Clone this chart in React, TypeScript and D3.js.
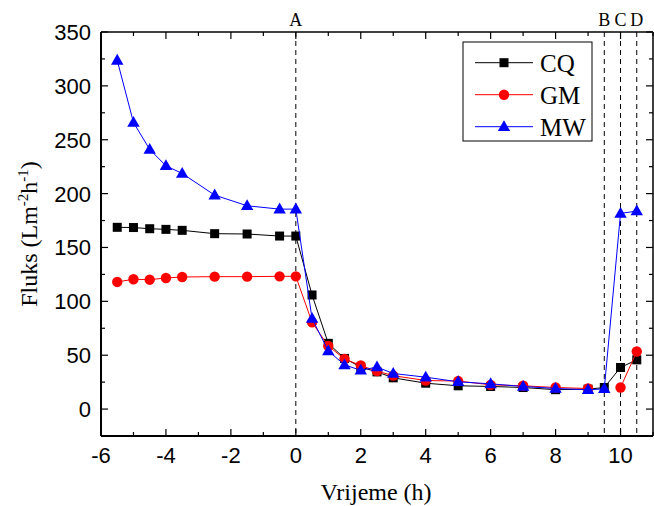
import React from "react";
import * as d3 from "d3";

const hours = [-5.5, -5, -4.5, -4, -3.5, -2.5, -1.5, -0.5, 0, 0.5, 1, 1.5, 2, 2.5, 3, 4, 5, 6, 7, 8, 9, 9.5, 10, 10.5];
const cqValues = [168.7, 168.5, 167.4, 166.8, 165.9, 162.8, 162.5, 160.6, 160.6, 105.9, 61, 47, 39, 34.5, 29, 24, 21.6, 21, 20, 18, 18.5, 20, 38.6, 45.7];
const gmValues: (number | null)[] = [118, 120.5, 120.1, 121.7, 122.6, 122.9, 122.9, 123.2, 123.2, 80.5, 58.5, 46.6, 40.4, 35.2, 31, 26.5, 26, 22.5, 21.6, 20, 19.1, null, 20, 53.4];
const mwValues = [323.7, 266, 241, 225.8, 218.7, 198.6, 188.7, 185.6, 185.6, 84, 54, 41, 36, 39, 33, 29.6, 25.3, 23.4, 21, 19.1, 17.9, 18.8, 181.6, 183.8];

const seriesNames = ["CQ", "GM", "MW"];
const seriesColors = ["#000000", "#ff0000", "#0000ff"];
const seriesShapes = ["square", "circle", "triangle"];
const eventLabels = ["A", "B", "C", "D"];
const eventHours = [0, 9.5, 10, 10.5];
const xTicks = [-6, -4, -2, 0, 2, 4, 6, 8, 10];
const yTicks = [0, 50, 100, 150, 200, 250, 300, 350];

const W = 654, H = 506;
const L = 101, R = 653, T = 32, B = 436;

function Marker({ shape, x, y, color }: { shape: string; x: number; y: number; color: string }) {
  if (shape === "square") return <rect x={x - 4.5} y={y - 4.5} width={9} height={9} fill={color} />;
  if (shape === "circle") return <circle cx={x} cy={y} r={5.2} fill={color} />;
  return <path d={`M${x},${y - 6.5} L${x + 6.2},${y + 4.3} L${x - 6.2},${y + 4.3} Z`} fill={color} />;
}

export default function App() {
  const x = d3.scaleLinear().domain([-6, 11]).range([L, R]);
  const y = d3.scaleLinear().domain([-25, 350]).range([B, T]);
  const all = [cqValues, gmValues, mwValues];
  const xMinor = d3.range(-6, 11.01, 1);
  const yMinor = d3.range(-25, 350.01, 25);
  const line = d3
    .line<[number, number | null]>()
    .defined((d) => d[1] != null)
    .x((d) => x(d[0]))
    .y((d) => y(d[1] as number));
  const sans = "Arial, 'Liberation Sans', Helvetica, sans-serif";
  const serif = "'Times New Roman', Times, 'Liberation Serif', Tinos, 'DejaVu Serif', 'Noto Serif', FreeSerif, serif";
  const legX = 463, legY = 42, legW = 129, legH = 99;
  return (
    <svg width={W} height={H} style={{ position: "absolute", left: 0, top: 0, background: "#fff" }}>
      <rect x={0} y={0} width={W} height={H} fill="#fff" />
      {eventHours.map((h, i) => (
        <g key={"ev" + i}>
          <line x1={x(h)} x2={x(h)} y1={T} y2={B} stroke="#000" strokeWidth={1} strokeDasharray="5,4" />
          <text x={x(h)} y={26} textAnchor="middle" style={{ fontFamily: serif, fontSize: 18 }}>{eventLabels[i]}</text>
        </g>
      ))}
      {all.map((vals, si) => {
        const pts = hours.map((h, i) => [h, vals[i]] as [number, number | null]);
        return (
          <g key={"s" + si}>
            <path d={line(pts) || ""} fill="none" stroke={seriesColors[si]} strokeWidth={1} />
            {pts.filter((p) => p[1] != null).map((p, i) => (
              <Marker key={i} shape={seriesShapes[si]} x={x(p[0])} y={y(p[1] as number)} color={seriesColors[si]} />
            ))}
          </g>
        );
      })}
      <line x1={L} x2={R} y1={T} y2={T} stroke="#000" strokeWidth={1.5} />
      <line x1={R} x2={R} y1={T} y2={B} stroke="#000" strokeWidth={1.5} />
      <line x1={L} x2={R} y1={B} y2={B} stroke="#000" strokeWidth={2} />
      <line x1={L} x2={L} y1={T} y2={B} stroke="#000" strokeWidth={2} />
      {xMinor.map((v) => {
        const len = Math.abs(v % 2) < 1e-9 ? 7 : 4;
        return (
          <g key={"xt" + v}>
            <line x1={x(v)} x2={x(v)} y1={B} y2={B - len} stroke="#000" strokeWidth={1.2} />
            <line x1={x(v)} x2={x(v)} y1={T} y2={T + len} stroke="#000" strokeWidth={1.2} />
          </g>
        );
      })}
      {yMinor.map((v) => {
        const len = Math.abs(v % 50) < 1e-9 ? 7 : 4;
        return (
          <g key={"yt" + v}>
            <line x1={L} x2={L + len} y1={y(v)} y2={y(v)} stroke="#000" strokeWidth={1.2} />
            <line x1={R} x2={R - len} y1={y(v)} y2={y(v)} stroke="#000" strokeWidth={1.2} />
          </g>
        );
      })}
      {xTicks.map((v) => (
        <text key={"xl" + v} x={x(v)} y={463} textAnchor="middle" style={{ fontFamily: sans, fontSize: 22 }}>{v}</text>
      ))}
      {yTicks.map((v) => (
        <text key={"yl" + v} x={91} y={y(v) + 8} textAnchor="end" style={{ fontFamily: sans, fontSize: 22 }}>{v}</text>
      ))}
      <text x={376} y={500} textAnchor="middle" style={{ fontFamily: serif, fontSize: 24 }}>Vrijeme (h)</text>
      <text transform={`translate(37,${(T + B) / 2}) rotate(-90)`} textAnchor="middle" style={{ fontFamily: serif, fontSize: 24 }}>
        Fluks (Lm<tspan dy={-9} style={{ fontSize: 15 }}>-2</tspan><tspan dy={9}>h</tspan><tspan dy={-9} style={{ fontSize: 15 }}>-1</tspan><tspan dy={9}>)</tspan>
      </text>
      <rect x={legX} y={legY} width={legW} height={legH} fill="#fff" stroke="#000" strokeWidth={1} />
      {seriesNames.map((n, i) => {
        const ry = 62.7 + i * 32;
        return (
          <g key={"lg" + i}>
            <line x1={475} x2={533} y1={ry} y2={ry} stroke={seriesColors[i]} strokeWidth={1} />
            <Marker shape={seriesShapes[i]} x={504} y={ry} color={seriesColors[i]} />
            <text x={540} y={ry + 9} style={{ fontFamily: serif, fontSize: 25 }}>{n}</text>
          </g>
        );
      })}
    </svg>
  );
}
